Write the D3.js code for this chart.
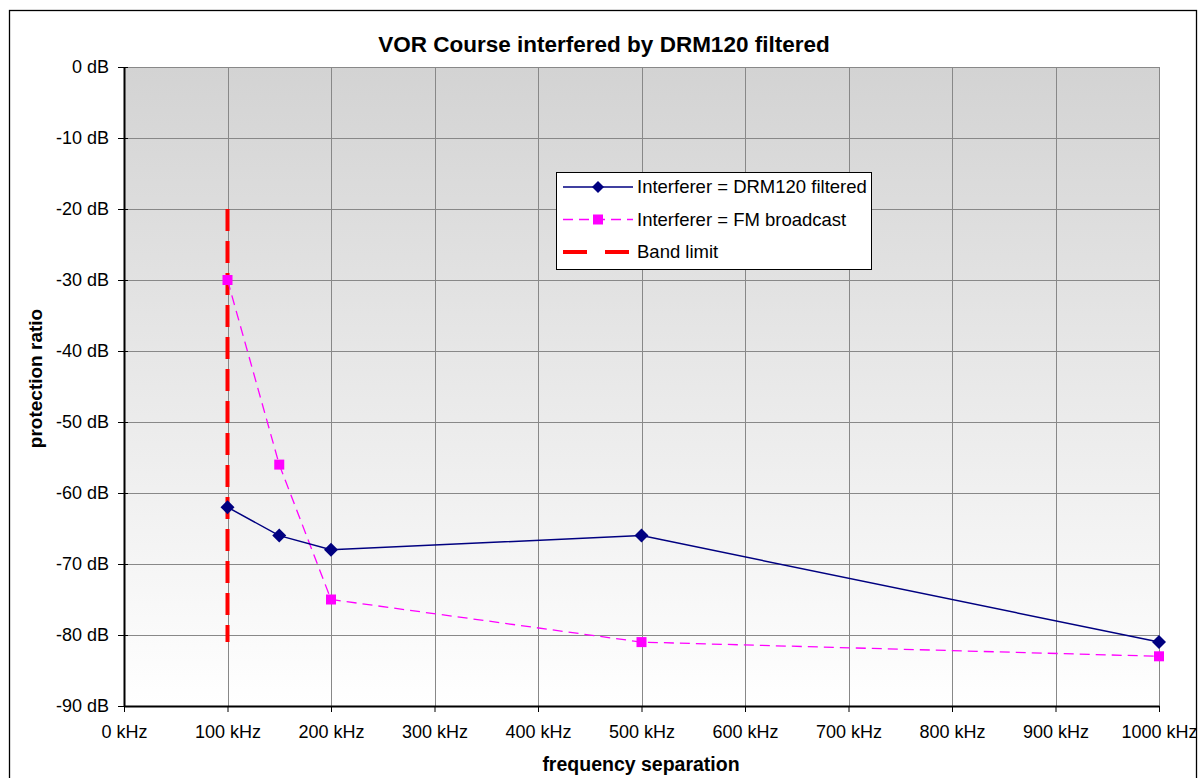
<!DOCTYPE html>
<html>
<head>
<meta charset="utf-8">
<script src="https://cdn.jsdelivr.net/npm/d3@7"></script>
<style>
	body { margin: 0; background: #fff; }
	svg { font-family: "Liberation Sans", Arial, sans-serif; display: block; }
</style>
</head>
<body>
<svg id="chart" width="1202" height="778"></svg>
<script>
// tick values
var xTicks = [0, 100, 200, 300, 400, 500, 600, 700, 800, 900, 1000];
var yTicks = [0, -10, -20, -30, -40, -50, -60, -70, -80, -90];

// series (kHz, dB)
var drmFreq = [100, 150, 200, 500, 1000];
var drmValues = [-62, -66, -68, -66, -81];
var fmFreq = [100, 150, 200, 500, 1000];
var fmValues = [-30, -56, -75, -81, -83];
var bandLimitFreq = [100, 100];
var bandLimitValues = [-20, -81];

var seriesNames = ["Interferer = DRM120 filtered", "Interferer = FM broadcast", "Band limit"];

var svg = d3.select("#chart");

var margin = { left: 124, top: 67, right: 1159, bottom: 706 };

var x = d3.scaleLinear().domain([0, 1000]).range([margin.left, margin.right]);
var y = d3.scaleLinear().domain([-90, 0]).range([margin.bottom, margin.top]);

// outer frame
svg.append("rect")
	.attr("x", 9.5).attr("y", 10.5)
	.attr("width", 1187).attr("height", 780)
	.attr("fill", "#fff").attr("stroke", "#000").attr("stroke-width", 1.3);

// plot background gradient
var defs = svg.append("defs");
var grad = defs.append("linearGradient").attr("id", "bg")
	.attr("x1", 0).attr("y1", 0).attr("x2", 0).attr("y2", 1);
grad.append("stop").attr("offset", "0%").attr("stop-color", "#d3d3d3");
grad.append("stop").attr("offset", "100%").attr("stop-color", "#ffffff");

svg.append("rect")
	.attr("x", margin.left).attr("y", margin.top)
	.attr("width", margin.right - margin.left).attr("height", margin.bottom - margin.top)
	.attr("fill", "url(#bg)");

// grid
var grid = svg.append("g").attr("stroke", "#888").attr("stroke-width", 1);
grid.selectAll(".gx").data(xTicks.slice(1)).enter().append("line")
	.attr("x1", function(d) { return Math.round(x(d)) + 0.5; })
	.attr("x2", function(d) { return Math.round(x(d)) + 0.5; })
	.attr("y1", margin.top).attr("y2", margin.bottom);
grid.selectAll(".gy").data(yTicks.slice(0, -1)).enter().append("line")
	.attr("y1", function(d) { return Math.round(y(d)) + 0.5; })
	.attr("y2", function(d) { return Math.round(y(d)) + 0.5; })
	.attr("x1", margin.left).attr("x2", margin.right);

// axes
var xAxis = d3.axisBottom(x).tickValues(xTicks).tickSize(6).tickSizeOuter(0)
	.tickFormat(function(d) { return d + " kHz"; });
var yAxis = d3.axisLeft(y).tickValues(yTicks).tickSize(6).tickSizeOuter(0)
	.tickFormat(function(d) { return d + " dB"; });

var gx = svg.append("g").attr("transform", "translate(0," + margin.bottom + ")").call(xAxis);
var gy = svg.append("g").attr("transform", "translate(" + margin.left + ",0)").call(yAxis);

[gx, gy].forEach(function(g) {
	g.select(".domain").attr("stroke", "#000").attr("stroke-width", 2);
	g.selectAll(".tick line").attr("stroke", "#000");
	g.selectAll("text").attr("fill", "#000").style("font-size", "18px").style("font-family", "'Liberation Sans', Arial, sans-serif");
});
gx.selectAll(".tick text").attr("y", 19).attr("dy", "0.71em");
gy.selectAll(".tick line").attr("x2", 4).attr("x1", -6);
gy.selectAll(".tick text").attr("x", -15);

// titles
svg.append("text")
	.attr("x", 604).attr("y", 52)
	.attr("text-anchor", "middle")
	.style("font-size", "22.5px").style("font-weight", "bold")
	.text("VOR Course interfered by DRM120 filtered");

svg.append("text")
	.attr("x", 641).attr("y", 771)
	.attr("text-anchor", "middle")
	.style("font-size", "19.5px").style("font-weight", "bold")
	.text("frequency separation");

svg.append("text")
	.attr("transform", "translate(42," + ((margin.top + margin.bottom) / 2 - 8) + ") rotate(-90)")
	.attr("text-anchor", "middle")
	.style("font-size", "19px").style("font-weight", "bold")
	.text("protection ratio");

var line = d3.line()
	.x(function(d) { return x(d[0]); })
	.y(function(d) { return y(d[1]); });

// band limit
svg.append("path")
	.datum(d3.zip(bandLimitFreq, bandLimitValues))
	.attr("d", line)
	.attr("fill", "none").attr("stroke", "#ff0000")
	.attr("stroke-width", 4).attr("stroke-dasharray", "22,10");

// FM broadcast
var fmData = d3.zip(fmFreq, fmValues);
svg.append("path")
	.datum(fmData)
	.attr("d", line)
	.attr("fill", "none").attr("stroke", "#ff00ff")
	.attr("stroke-width", 1.3).attr("stroke-dasharray", "10,6");
svg.selectAll(".fm").data(fmData).enter().append("rect")
	.attr("x", function(d) { return x(d[0]) - 5; })
	.attr("y", function(d) { return y(d[1]) - 5; })
	.attr("width", 10).attr("height", 10)
	.attr("fill", "#ff00ff");

// DRM120 filtered
var drmData = d3.zip(drmFreq, drmValues);
svg.append("path")
	.datum(drmData)
	.attr("d", line)
	.attr("fill", "none").attr("stroke", "#000080").attr("stroke-width", 1.5);
var diamond = "M0,-7L7,0L0,7L-7,0Z";
svg.selectAll(".drm").data(drmData).enter().append("path")
	.attr("d", diamond)
	.attr("transform", function(d) { return "translate(" + x(d[0]) + "," + y(d[1]) + ")"; })
	.attr("fill", "#000080");

// legend
var lg = svg.append("g").attr("transform", "translate(556,172)");
lg.append("rect")
	.attr("x", 0.5).attr("y", 0.5).attr("width", 315).attr("height", 97)
	.attr("fill", "#fff").attr("stroke", "#000").attr("stroke-width", 1);

var rows = lg.selectAll(".row").data(seriesNames).enter().append("g")
	.attr("transform", function(d, i) { return "translate(0," + (15 + i * 32.5) + ")"; });

rows.append("text")
	.attr("x", 81).attr("y", 0).attr("dy", "0.35em")
	.style("font-size", "18.5px")
	.text(function(d) { return d; });

rows.filter(function(d, i) { return i === 0; }).each(function() {
	var r = d3.select(this);
	r.append("line").attr("x1", 7).attr("x2", 77).attr("y1", 0).attr("y2", 0)
		.attr("stroke", "#000080").attr("stroke-width", 1.5);
	r.append("path").attr("d", "M0,-6L6,0L0,6L-6,0Z").attr("transform", "translate(42,0)").attr("fill", "#000080");
});
rows.filter(function(d, i) { return i === 1; }).each(function() {
	var r = d3.select(this);
	r.append("line").attr("x1", 7).attr("x2", 77).attr("y1", 0).attr("y2", 0)
		.attr("stroke", "#ff00ff").attr("stroke-width", 1.3).attr("stroke-dasharray", "10,6");
	r.append("rect").attr("x", 37).attr("y", -5).attr("width", 10).attr("height", 10).attr("fill", "#ff00ff");
});
rows.filter(function(d, i) { return i === 2; }).each(function() {
	var r = d3.select(this);
	r.append("line").attr("x1", 7).attr("x2", 77).attr("y1", 0).attr("y2", 0)
		.attr("stroke", "#ff0000").attr("stroke-width", 4).attr("stroke-dasharray", "24,18");
});
</script>
</body>
</html>
